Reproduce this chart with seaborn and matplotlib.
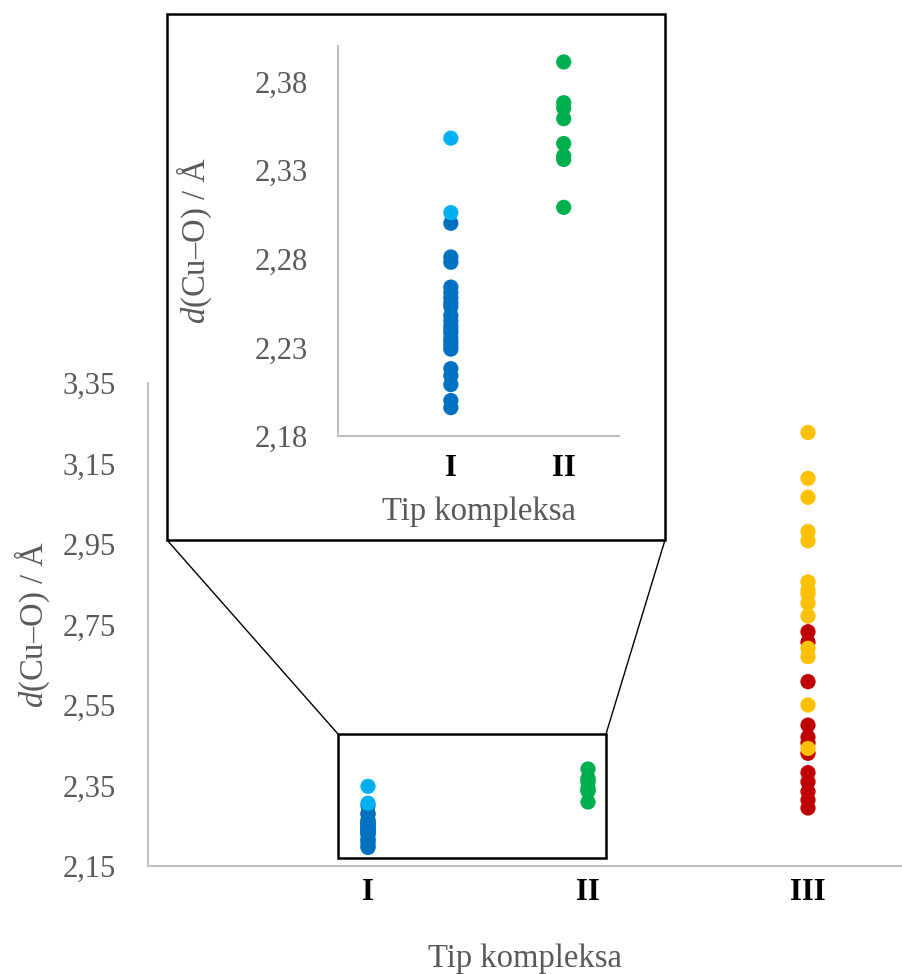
import numpy as np
import pandas as pd
import matplotlib
matplotlib.use("Agg")
import matplotlib.pyplot as plt
import seaborn as sns
from matplotlib.patches import Rectangle
from matplotlib.lines import Line2D
from matplotlib.ticker import FuncFormatter

# =========================================================
# DATA
# =========================================================
tip_labels = ["I", "II", "III"]

# tip I, dark blue
d_I_dark = [2.300, 2.281, 2.278, 2.264, 2.261, 2.258, 2.255, 2.253, 2.248,
            2.245, 2.242, 2.240, 2.238, 2.235, 2.233, 2.231, 2.229,
            2.218, 2.214, 2.209, 2.200, 2.196]
# tip I, light blue
d_I_light = [2.348, 2.306]
# tip II, green
d_II = [2.391, 2.368, 2.365, 2.359, 2.345, 2.338, 2.336, 2.309]
# tip III, red
d_III_red = [2.732, 2.706, 2.608, 2.500, 2.470, 2.456, 2.430,
             2.382, 2.359, 2.335, 2.314, 2.294]
# tip III, yellow
d_III_yellow = [3.227, 3.113, 3.066, 2.981, 2.958, 2.856, 2.836, 2.826,
                2.803, 2.771, 2.691, 2.670, 2.550, 2.442]

groups = ["I_dark", "I_light", "II", "III_red", "III_yellow"]
group_x = [1, 1, 2, 3, 3]
group_vals = [d_I_dark, d_I_light, d_II, d_III_red, d_III_yellow]
palette = {"I_dark": "#0070C0", "I_light": "#00B0F0", "II": "#00B050",
           "III_red": "#C00000", "III_yellow": "#FFC000"}

rows = []
for g, xv, vals in zip(groups, group_x, group_vals):
    for v in vals:
        rows.append({"tip": xv, "d": v, "grupa": g})
df = pd.DataFrame(rows)
df_inset = df[df["tip"] < 3]

# =========================================================
# STYLE
# =========================================================
sns.set_style("white")
plt.rcParams["font.family"] = ["Liberation Serif", "DejaVu Serif"]
plt.rcParams["mathtext.fontset"] = "custom"
plt.rcParams["mathtext.rm"] = "Liberation Serif"
plt.rcParams["mathtext.it"] = "Liberation Serif:italic"

GRAY = "#595959"
SPINE = "#bfbfbf"
FS = 22      # tick labels
FL = 23.5    # axis titles
W, H = 902, 974

comma = FuncFormatter(lambda v, p: f"{v:.2f}".replace(".", ","))

fig = plt.figure(figsize=(W / 100, H / 100), dpi=100)


def fig_box(left, top, right, bottom):
    return [left / W, 1 - bottom / H, (right - left) / W, (bottom - top) / H]


def style_axes(ax):
    for s in ["top", "right"]:
        ax.spines[s].set_visible(False)
    for s in ["left", "bottom"]:
        ax.spines[s].set_color(SPINE)
        ax.spines[s].set_linewidth(1.5)
    ax.yaxis.set_major_formatter(comma)
    ax.tick_params(axis="y", length=8, width=1.5, color=SPINE, pad=15,
                   labelsize=FS, labelcolor=GRAY)
    ax.tick_params(axis="x", length=0, labelsize=FS, labelcolor="black")
    for lbl in ax.get_xticklabels():
        lbl.set_fontweight("bold")
    ax.set_facecolor("white")


# =========================================================
# MAIN CHART
# =========================================================
ax = fig.add_axes(fig_box(148, 383, 902, 866))
sns.scatterplot(data=df, x="tip", y="d", hue="grupa", palette=palette,
                s=120, linewidth=0, legend=False, ax=ax, clip_on=False)
ax.set_xlim(0, 754 / 220)
ax.set_ylim(2.15, 3.35)
ax.set_yticks(np.arange(2.15, 3.36, 0.2))
ax.set_xticks([1, 2, 3])
ax.set_xticklabels(tip_labels)
style_axes(ax)
ax.tick_params(axis="x", pad=9)
ax.set_xlabel("Tip kompleksa", fontsize=FL, color=GRAY, labelpad=26)
ax.set_ylabel(r"$d$(Cu–O) / Å", fontsize=FL, color=GRAY, labelpad=8)

# zoom rectangle on the main chart
zx0, zx1 = (338 - 148) / 220, (606 - 148) / 220
zy0, zy1 = 3.35 - (858 - 383) / 402.5, 3.35 - (734 - 383) / 402.5
ax.add_patch(Rectangle((zx0, zy0), zx1 - zx0, zy1 - zy0, fill=False,
                       ec="black", lw=1.8, zorder=5, clip_on=False))

# =========================================================
# INSET FRAME + CONNECTORS
# =========================================================
frame = Rectangle((167 / W, 1 - 540 / H), (665 - 167) / W, (540 - 14) / H,
                  transform=fig.transFigure, facecolor="white",
                  edgecolor="black", lw=1.8, zorder=1)
fig.add_artist(frame)
for (xa, ya), (xb, yb) in [((167, 540), (338, 734)), ((665, 540), (606, 734))]:
    fig.add_artist(Line2D([xa / W, xb / W], [1 - ya / H, 1 - yb / H],
                          transform=fig.transFigure, color="black",
                          lw=1.0, zorder=1))

# =========================================================
# INSET CHART
# =========================================================
axi = fig.add_axes(fig_box(338, 46, 619, 436))
axi.set_zorder(2)
sns.scatterplot(data=df_inset, x="tip", y="d", hue="grupa", palette=palette,
                s=120, linewidth=0, legend=False, ax=axi, clip_on=False)
axi.set_xlim(0, 2.49)
axi.set_ylim(2.18, 2.40)
axi.set_yticks(np.arange(2.18, 2.381, 0.05))
axi.set_xticks([1, 2])
axi.set_xticklabels(tip_labels[:2])
style_axes(axi)
axi.tick_params(axis="y", length=10, pad=12)
axi.tick_params(axis="x", pad=13)
axi.set_xlabel("Tip kompleksa", fontsize=FL, color=GRAY, labelpad=10)
axi.set_ylabel(r"$d$(Cu–O) / Å", fontsize=FL, color=GRAY, labelpad=29)

fig.savefig("out.png", dpi=100)
